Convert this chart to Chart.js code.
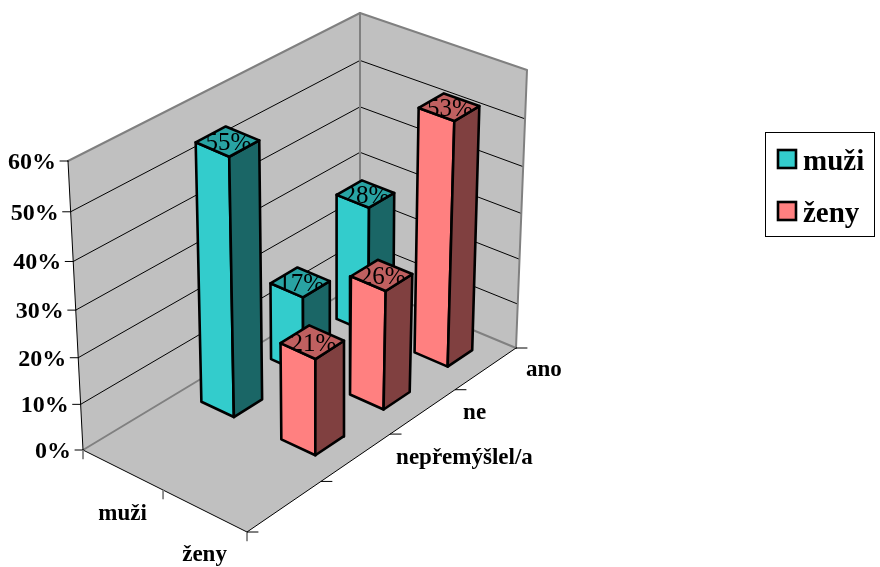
<!DOCTYPE html>
<html lang="cs">

<head>
    <meta charset="UTF-8">
    <title>Graf</title>
    <script src="https://cdn.jsdelivr.net/npm/chart.js"></script>
    <style>
        body { margin: 0; background: #fff; }
        canvas { display: block; }
    </style>
</head>

<body>
    <canvas id="graf" width="880" height="567"></canvas>

    <script>
        // hodnoty grafu (první kategorie je prázdná, stejně jako v tabulce)
        const kategorie = ['', 'nepřemýšlel/a', 'ne', 'ano'];
        const serie = ['muži', 'ženy'];
        const muzi = [null, 55, 17, 28];
        const zeny = [null, 21, 26, 53];
        const popiskyOsy = [0, 10, 20, 30, 40, 50, 60];

        const barvy = [
            { predni: '#33CCCC', bok: '#1A6666', vrch: '#29A3A3' },
            { predni: '#FF8080', bok: '#804040', vrch: '#C06060' }
        ];

        // rohy prostoru grafu: podlaha a horní rovina
        const dole = { l: [83, 450], f: [247, 532], b: [360, 283], r: [516, 348] };
        const nahore = { l: [68, 161], f: [240, 244], b: [360, 13], r: [527, 70] };
        const maxOsa = 60;
        const perspektiva = 0.066;
        const sirkaP = 0.103;
        const sirkaQ = 0.05;
        const posunP = -0.008;
        const posunQ = -0.003;

        function ctyruhelnik(c) {
            const k = [c.f[0] + c.b[0] - c.l[0] - c.r[0], c.f[1] + c.b[1] - c.l[1] - c.r[1]];
            const u = [c.r[0] - c.f[0], c.r[1] - c.f[1]];
            const v = [c.r[0] - c.b[0], c.r[1] - c.b[1]];
            const det = u[0] * v[1] - u[1] * v[0];
            const a = (k[0] * v[1] - k[1] * v[0]) / det;
            const b = (u[0] * k[1] - u[1] * k[0]) / det;
            return function (p, q) {
                const w = 1 + a * p + b * q;
                return [0, 1].map(i => (c.l[i] + p * (c.f[i] * (1 + a) - c.l[i]) + q * (c.b[i] * (1 + b) - c.l[i])) / w);
            };
        }

        const podlaha = ctyruhelnik(dole);
        const strop = ctyruhelnik(nahore);

        // p: osa řad, q: osa kategorií, hodnota v procentech
        function bod(p, q, hodnota) {
            const t = hodnota / maxOsa;
            const w = t / (1 + perspektiva * (1 - t));
            const a = podlaha(p, q);
            const b = strop(p, q);
            return { x: a[0] + (b[0] - a[0]) * w, y: a[1] + (b[1] - a[1]) * w };
        }

        function posun(b, dx, dy) {
            return { x: b.x + dx, y: b.y + dy };
        }

        const vrstvy = [];

        function plocha(body, vypln, okraj, tloustka) {
            vrstvy.push({
                data: body.concat(vypln ? [body[0]] : []),
                showLine: true,
                fill: vypln ? 'shape' : false,
                backgroundColor: vypln || 'transparent',
                borderColor: okraj,
                borderWidth: tloustka,
                borderJoinStyle: 'round',
                borderCapStyle: 'round',
                pointRadius: 0,
                tension: 0,
                clip: false
            });
        }

        // stěny a podlaha
        plocha([bod(0, 0, 0), bod(0, 1, 0), bod(0, 1, maxOsa), bod(0, 0, maxOsa)], '#C0C0C0', 'transparent', 0);
        plocha([bod(0, 1, 0), bod(1, 1, 0), bod(1, 1, maxOsa), bod(0, 1, maxOsa)], '#C0C0C0', 'transparent', 0);
        plocha([bod(0, 0, 0), bod(1, 0, 0), bod(1, 1, 0), bod(0, 1, 0)], '#C0C0C0', 'transparent', 0);

        // vodorovné mřížky
        popiskyOsy.slice(1, -1).forEach(function (v) {
            plocha([bod(0, 0, v), bod(0, 1, v), bod(1, 1, v)], null, '#000000', 1);
        });

        // šedé hrany stěn
        plocha([bod(0, 0, maxOsa), bod(0, 1, maxOsa), bod(1, 1, maxOsa), bod(1, 1, 0)], null, '#808080', 2);
        plocha([bod(0, 1, maxOsa), bod(0, 1, 0)], null, '#808080', 2);
        plocha([bod(0, 0, 0), bod(0, 1, 0), bod(1, 1, 0)], null, '#808080', 2);

        // osy a značky
        plocha([bod(0, 0, 0), bod(0, 0, maxOsa)], null, '#000000', 1);
        plocha([bod(0, 0, 0), bod(1, 0, 0), bod(1, 1, 0)], null, '#000000', 1);
        popiskyOsy.forEach(function (v) {
            const b = bod(0, 0, v);
            plocha([b, posun(b, -8, 0)], null, '#000000', 1);
        });
        serie.concat(['']).forEach(function (s, i) {
            const b = bod(i / serie.length, 0, 0);
            plocha([b, posun(b, 0, 9)], null, '#808080', 1);
        });
        kategorie.concat(['']).forEach(function (k, i) {
            const b = bod(1, i / kategorie.length, 0);
            plocha([b, posun(b, 11, 0)], null, '#000000', 1);
        });

        // sloupce odzadu dopředu, aby se správně překrývaly
        const popiskySloupcu = [];
        for (let c = kategorie.length - 1; c >= 0; c--) {
            [muzi, zeny].forEach(function (rada, s) {
                const hodnota = rada[c];
                if (hodnota === null) return;
                const p = (s + 0.5) / serie.length + posunP;
                const q = (c + 0.5) / kategorie.length + posunQ;
                const barva = barvy[s];
                const roh = (dp, dq, v) => bod(p + dp * sirkaP, q + dq * sirkaQ, v);
                plocha([roh(-1, -1, 0), roh(1, -1, 0), roh(1, -1, hodnota), roh(-1, -1, hodnota)], barva.predni, '#000000', 2.6);
                plocha([roh(1, -1, 0), roh(1, 1, 0), roh(1, 1, hodnota), roh(1, -1, hodnota)], barva.bok, '#000000', 2.6);
                const vrch = [roh(-1, -1, hodnota), roh(1, -1, hodnota), roh(1, 1, hodnota), roh(-1, 1, hodnota)];
                plocha(vrch, barva.vrch, '#000000', 2.6);
                popiskySloupcu.push({ text: hodnota + '%', stred: bod(p, q, hodnota), vrch: vrch });
            });
        }

        // první dataset se kreslí navrch, proto pořadí obracíme
        vrstvy.reverse();

        const popisky = {
            id: 'popisky',
            afterDatasetsDraw(chart) {
                const ctx = chart.ctx;
                const sx = chart.scales.x;
                const sy = chart.scales.y;
                const px = b => [sx.getPixelForValue(b.x), sy.getPixelForValue(b.y)];

                ctx.save();
                ctx.fillStyle = '#000';
                ctx.textBaseline = 'alphabetic';

                // popisky sloupců jsou oříznuté na horní plochu
                ctx.font = '25px "Liberation Serif"';
                ctx.textAlign = 'center';
                popiskySloupcu.forEach(function (l) {
                    ctx.save();
                    ctx.beginPath();
                    l.vrch.forEach(function (b, i) {
                        const m = px(b);
                        if (i === 0) ctx.moveTo(m[0], m[1]); else ctx.lineTo(m[0], m[1]);
                    });
                    ctx.closePath();
                    ctx.clip();
                    const m = px(l.stred);
                    ctx.fillText(l.text, m[0] + 1, m[1] + 9);
                    ctx.restore();
                });

                ctx.font = 'bold 24px "Liberation Serif"';
                ctx.textAlign = 'right';
                popiskyOsy.forEach(function (v) {
                    const m = px(bod(0, 0, v));
                    ctx.fillText(v + '%', m[0] - 12, m[1] + 8);
                });

                ctx.font = 'bold 23px "Liberation Serif"';
                ctx.textAlign = 'center';
                serie.forEach(function (s, i) {
                    const m = px(bod((i + 0.5) / serie.length, 0, 0));
                    ctx.fillText(s, m[0], m[1] + 50);
                });

                ctx.textAlign = 'left';
                kategorie.forEach(function (k, i) {
                    const m = px(bod(1, (i + 0.5) / kategorie.length, 0));
                    ctx.fillText(k, m[0] + 40, m[1] + 7);
                });

                // legenda
                ctx.strokeStyle = '#000';
                ctx.lineWidth = 1;
                ctx.strokeRect(765.5, 132.5, 109, 104);
                ctx.font = 'bold 29px "Liberation Serif"';
                serie.forEach(function (s, i) {
                    const y = 150 + i * 52;
                    ctx.fillStyle = barvy[i].predni;
                    ctx.fillRect(778, y, 18, 18);
                    ctx.lineWidth = 2.6;
                    ctx.strokeRect(778, y, 18, 18);
                    ctx.fillStyle = '#000';
                    ctx.fillText(s, 803, y + 20);
                });
                ctx.restore();
            }
        };

        new Chart(document.getElementById('graf'), {
            type: 'scatter',
            data: { datasets: vrstvy },
            plugins: [popisky],
            options: {
                responsive: false,
                animation: false,
                layout: { padding: 0 },
                plugins: { legend: { display: false }, tooltip: { enabled: false } },
                scales: {
                    x: { type: 'linear', min: 0, max: 880, display: false },
                    y: { type: 'linear', min: 0, max: 567, reverse: true, display: false }
                }
            }
        });
    </script>
</body>

</html>
